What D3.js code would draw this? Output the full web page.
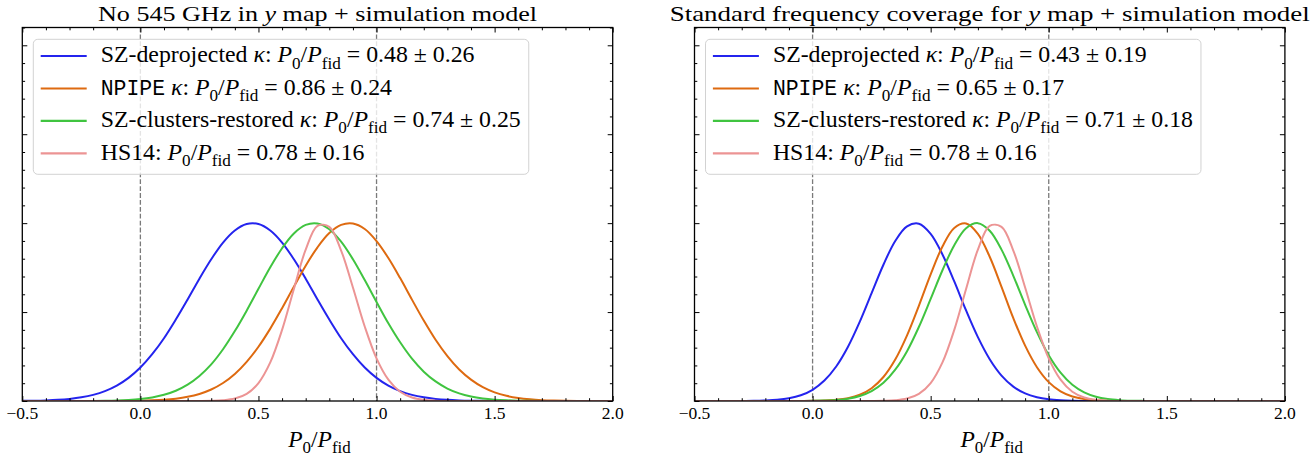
<!DOCTYPE html>
<html><head><meta charset="utf-8">
<script src="https://cdn.jsdelivr.net/npm/d3@7"></script>
<style>
body{margin:0;background:#fff;}
svg{display:block;}
text{white-space:pre;}
</style>
</head><body>
<svg id="chart" width="1316" height="459"></svg>
<script>
// ---------------- data ----------------
const xGrid = [-0.5,-0.45,-0.4,-0.35,-0.3,-0.25,-0.2,-0.15,-0.1,-0.05,
  0,0.05,0.1,0.15,0.2,0.25,0.3,0.35,0.4,0.45,
  0.5,0.55,0.6,0.65,0.7,0.75,0.8,0.85,0.9,0.95,
  1.0,1.05,1.1,1.15,1.2,1.25,1.3,1.35,1.4,1.45,
  1.5,1.55,1.6,1.65,1.7,1.75,1.8,1.85,1.9,1.95,2.0];

// Left panel: No 545 GHz in y map
const leftSZdeproj = [0.0009,0.0018,0.0035,0.0065,0.0118,0.0205,0.0344,0.0556,0.0866,0.130,
  0.188,0.263,0.353,0.458,0.571,0.688,0.797,0.891,0.959,0.995,
  0.995,0.959,0.891,0.797,0.688,0.571,0.458,0.353,0.263,0.188,
  0.130,0.0866,0.0556,0.0344,0.0205,0.0118,0.0065,0.0035,0.0018,0.0009,
  0.0004,0,0,0,0,0,0,0,0,0,0];
const leftNPIPE = [0,0,0,0,0,0,0,0,0.0004,0.0009,
  0.0019,0.0038,0.0072,0.0133,0.0235,0.0397,0.0646,0.101,0.152,0.220,
  0.305,0.407,0.522,0.643,0.761,0.864,0.944,0.990,0.998,0.967,
  0.899,0.804,0.691,0.570,0.452,0.344,0.252,0.177,0.120,0.0778,
  0.0485,0.0291,0.0167,0.0093,0.0049,0.0025,0.0012,0.0006,0.0003,0.0001,0];
const leftSZclusters = [0,0,0,0,0,0.0003,0.0007,0.0015,0.0030,0.0059,
  0.0111,0.0201,0.0348,0.0578,0.0920,0.141,0.206,0.291,0.393,0.508,
  0.631,0.752,0.859,0.942,0.990,0.998,0.966,0.896,0.797,0.680,
  0.557,0.437,0.330,0.238,0.165,0.110,0.0701,0.0429,0.0252,0.0141,
  0.0076,0.0040,0.0020,0.0009,0.0004,0.0002,0,0,0,0,0];
const hs14 = [0,0,0,0,0,0,0,0,0,0,
  0,0,0,0,0,0.0002,0.0010,0.0040,0.0137,0.0402,
  0.101,0.217,0.400,0.630,0.851,0.985,0.979,0.846,0.638,0.419,
  0.240,0.120,0.0522,0.0198,0.0066,0.0019,0.0005,0.0001,0,0,
  0,0,0,0,0,0,0,0,0,0,0];

// Right panel: standard frequency coverage
const rightSZdeproj = [0,0,0,0,0.0004,0.0010,0.0028,0.0067,0.0153,0.0321,
  0.0631,0.115,0.194,0.305,0.446,0.6065,0.766,0.900,0.982,0.997,
  0.940,0.824,0.672,0.509,0.359,0.235,0.143,0.0808,0.0424,0.0208,
  0.0094,0.0040,0.0016,0.0006,0.0002,0,0,0,0,0,
  0,0,0,0,0,0,0,0,0,0,0];
const rightNPIPE = [0,0,0,0,0,0,0,0,0,0.0003,
  0.0008,0.0024,0.0064,0.0157,0.0351,0.0720,0.135,0.233,0.369,0.535,
  0.712,0.869,0.973,0.998,0.940,0.811,0.642,0.466,0.311,0.190,
  0.106,0.0545,0.0257,0.0111,0.0044,0.0016,0.0005,0.0001,0,0,
  0,0,0,0,0,0,0,0,0,0,0];
const rightSZclusters = [0,0,0,0,0,0,0,0,0,0.0003,
  0.0009,0.0023,0.0057,0.0130,0.0278,0.0554,0.102,0.176,0.280,0.416,
  0.574,0.735,0.876,0.971,1.0,0.957,0.851,0.704,0.541,0.387,
  0.257,0.159,0.0911,0.0486,0.0241,0.0111,0.0048,0.0019,0.0007,0.0002,
  0,0,0,0,0,0,0,0,0,0,0];

const seriesNames = ["SZ-deprojected", "NPIPE", "SZ-clusters-restored", "HS14"];
const seriesHasKappa = [true, true, true, false];
const seriesMono = [false, true, false, false];
const seriesColors = ["#2424ee", "#de6a10", "#40c440", "#ec9494"];
const leftMeans = ["0.48", "0.86", "0.74", "0.78"];
const leftErrs  = ["0.26", "0.24", "0.25", "0.16"];
const rightMeans = ["0.43", "0.65", "0.71", "0.78"];
const rightErrs  = ["0.19", "0.17", "0.18", "0.16"];
const titles = ["No 545 GHz in ", "Standard frequency coverage for "];
const xMajorTicks = [-0.5, 0.0, 0.5, 1.0, 1.5, 2.0];
const xTickLabels = ["\u22120.5", "0.0", "0.5", "1.0", "1.5", "2.0"];
const refLines = [0.0, 1.0];

// ---------------- layout ----------------
const SERIF = "Liberation Serif";
const MONO = "Liberation Mono";
const svg = d3.select("#chart");
const yTop = 27.5, yBot = 401;
const panels = [
  {x0: 22.3, x1: 612.7, series: [leftSZdeproj, leftNPIPE, leftSZclusters, hs14], means: leftMeans, errs: leftErrs, title: titles[0], titleW: 439},
  {x0: 694.5, x1: 1284.9, series: [rightSZdeproj, rightNPIPE, rightSZclusters, hs14], means: rightMeans, errs: rightErrs, title: titles[1], titleW: 640}
];

function rich(textSel, parts, size) {
  let shift = 0;
  parts.forEach(p => {
    const t = textSel.append("tspan").text(p.t);
    const target = p.sub ? size * 0.26 : 0;
    if (target !== shift) { t.attr("dy", target - shift); shift = target; }
    let fs = p.sub ? size * 0.72 : size;
    t.style("font-family", p.mono ? MONO : SERIF);
    if (p.mono) fs = size * 0.9;
    t.style("font-size", fs + "px");
    if (p.it) t.style("font-style", "italic");
  });
}
function ratioParts() {
  return [{t: "P", it: true}, {t: "0", sub: true}, {t: "/"}, {t: "P", it: true}, {t: "fid", sub: true}];
}
function legendParts(i, mean, err) {
  const parts = [{t: seriesNames[i], mono: seriesMono[i]}];
  if (seriesHasKappa[i]) { parts.push({t: " "}); parts.push({t: "\u03ba", it: true}); }
  parts.push({t: ": "});
  parts.push(...ratioParts());
  parts.push({t: " = " + mean + " \u00b1 " + err});
  return parts;
}
function fitSize(parts, base, target) {
  const t = svg.append("text");
  rich(t, parts, base);
  const w = t.node().getComputedTextLength();
  t.remove();
  return base * target / w;
}

const legSize = fitSize(legendParts(0, "0.48", "0.26"), 20, 374);
const titleSize = 21.5;

const defs = svg.append("defs");

panels.forEach((P, pi) => {
  const x = d3.scaleLinear().domain([-0.5, 2.0]).range([P.x0, P.x1]);
  const y = d3.scaleLinear().domain([0, 2.1]).range([yBot, yTop]);
  const g = svg.append("g");
  const cx = (P.x0 + P.x1) / 2;

  defs.append("clipPath").attr("id", "clip" + pi)
    .append("rect").attr("x", P.x0).attr("y", yTop).attr("width", P.x1 - P.x0).attr("height", yBot - yTop);

  // reference dashed lines
  g.selectAll(".ref").data(refLines).join("line")
    .attr("x1", d => x(d)).attr("x2", d => x(d))
    .attr("y1", yTop).attr("y2", yBot)
    .attr("stroke", "#7a7a7a").attr("stroke-width", 1.3)
    .attr("stroke-dasharray", "4.8,2.1");

  // curves
  const line = d3.line().x((d, i) => x(xGrid[i])).y(d => y(d)).curve(d3.curveCatmullRom.alpha(0.5));
  const cg = g.append("g").attr("clip-path", `url(#clip${pi})`);
  P.series.forEach((s, si) => {
    cg.append("path").datum(s).attr("d", line)
      .attr("fill", "none").attr("stroke", seriesColors[si])
      .attr("stroke-width", 2).attr("stroke-linejoin", "round");
  });

  // legend
  const lx = P.x0 + 11, ly = 39.3;
  const rowY = [56, 88.5, 120.8, 153.3];
  const lg = g.append("g");
  const box = lg.append("rect");
  let maxW = 0;
  const textX = lx + 67.4;
  seriesNames.forEach((n, i) => {
    lg.append("line").attr("x1", lx + 7.4).attr("x2", lx + 53.4)
      .attr("y1", rowY[i]).attr("y2", rowY[i])
      .attr("stroke", seriesColors[i]).attr("stroke-width", 2.2);
    const t = lg.append("text").attr("x", textX).attr("y", rowY[i] + 6.4).attr("fill", "#000");
    rich(t, legendParts(i, P.means[i], P.errs[i]), legSize);
    maxW = Math.max(maxW, t.node().getComputedTextLength());
  });
  box.attr("x", lx).attr("y", ly).attr("width", textX + maxW + 8 - lx).attr("height", 135)
    .attr("rx", 4.5).attr("ry", 4.5)
    .attr("fill", "#fff").attr("fill-opacity", 0.8)
    .attr("stroke", "#d2d2d2").attr("stroke-width", 1);

  // ticks
  const minor = d3.range(-5, 21).map(v => v / 10).filter(v => Math.abs(v * 2 - Math.round(v * 2)) > 1e-6);
  const yMajor = [0, 0.5, 1.0, 1.5, 2.0];
  const yMinor = d3.range(1, 22).map(v => v / 10).filter(v => Math.abs(v * 2 - Math.round(v * 2)) > 1e-6);
  const tickStyle = sel => { sel.select(".domain").remove(); sel.selectAll("text").remove(); sel.selectAll("line").attr("stroke", "#000").attr("stroke-width", 1); };
  g.append("g").attr("transform", `translate(0,${yBot})`).call(d3.axisBottom(x).tickValues(xMajorTicks).tickSize(-5)).call(tickStyle);
  g.append("g").attr("transform", `translate(0,${yBot})`).call(d3.axisBottom(x).tickValues(minor).tickSize(-2.8)).call(tickStyle);
  g.append("g").attr("transform", `translate(0,${yTop})`).call(d3.axisTop(x).tickValues(xMajorTicks).tickSize(-5)).call(tickStyle);
  g.append("g").attr("transform", `translate(0,${yTop})`).call(d3.axisTop(x).tickValues(minor).tickSize(-2.8)).call(tickStyle);
  g.append("g").attr("transform", `translate(${P.x0},0)`).call(d3.axisLeft(y).tickValues(yMajor).tickSize(-5)).call(tickStyle);
  g.append("g").attr("transform", `translate(${P.x0},0)`).call(d3.axisLeft(y).tickValues(yMinor).tickSize(-2.8)).call(tickStyle);
  g.append("g").attr("transform", `translate(${P.x1},0)`).call(d3.axisRight(y).tickValues(yMajor).tickSize(-5)).call(tickStyle);
  g.append("g").attr("transform", `translate(${P.x1},0)`).call(d3.axisRight(y).tickValues(yMinor).tickSize(-2.8)).call(tickStyle);

  // spines
  g.append("rect").attr("x", P.x0).attr("y", yTop).attr("width", P.x1 - P.x0).attr("height", yBot - yTop)
    .attr("fill", "none").attr("stroke", "#000").attr("stroke-width", 1.3);

  // tick labels
  g.selectAll(".tl").data(xMajorTicks).join("text")
    .attr("x", d => x(d)).attr("y", 418.5).attr("text-anchor", "middle")
    .style("font-family", SERIF).style("font-size", "17.5px").attr("fill", "#000")
    .text((d, i) => xTickLabels[i]);

  // axis label
  const xl = g.append("text").attr("x", cx + 2).attr("y", 447).attr("text-anchor", "middle").attr("fill", "#000");
  rich(xl, ratioParts(), 23.5);

  // title
  const tt = g.append("text").attr("x", cx).attr("y", 20.5).attr("text-anchor", "middle").attr("fill", "#000")
    .attr("textLength", P.titleW).attr("lengthAdjust", "spacingAndGlyphs");
  rich(tt, [{t: P.title}, {t: "y", it: true}, {t: " map + simulation model"}], titleSize);
});
</script>
</body></html>
